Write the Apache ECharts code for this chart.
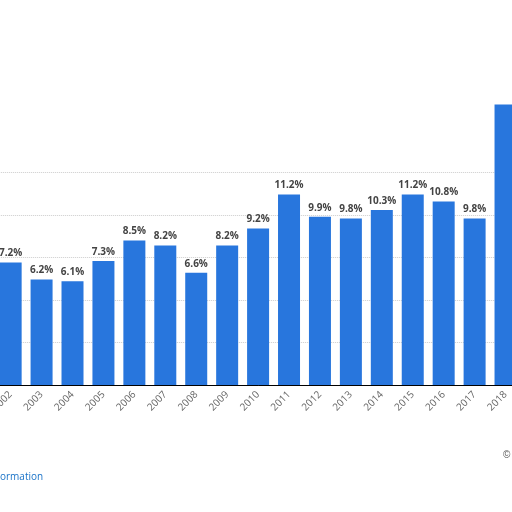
<!DOCTYPE html>
<html><head><meta charset="utf-8">
<script src="https://cdn.jsdelivr.net/npm/echarts@6/dist/echarts.min.js"></script>
<style>html,body{margin:0;background:#fff;overflow:hidden}#c{width:532px;height:512px;margin-left:-11px}</style>
</head><body><div id="c"></div>
<script>
const years = ['2002','2003','2004','2005','2006','2007','2008','2009','2010','2011','2012','2013','2014','2015','2016','2017','2018'];
const values = [7.2,6.2,6.1,7.3,8.5,8.2,6.6,8.2,9.2,11.2,9.9,9.8,10.3,11.2,10.8,9.8,16.5];
const labels = ['7.2%','6.2%','6.1%','7.3%','8.5%','8.2%','6.6%','8.2%','9.2%','11.2%','9.9%','9.8%','10.3%','11.2%','10.8%','9.8%',''];
const chart = echarts.init(document.getElementById('c'));
chart.setOption({
  animation:false,
  grid:{left:0,right:0,top:172.5,bottom:127},
  xAxis:{type:'category',data:years,
    axisLine:{lineStyle:{color:'#000',width:1}},axisTick:{show:false},
    axisLabel:{rotate:45,color:'#666',fontSize:10,fontFamily:'Open Sans',margin:8,interval:0}},
  yAxis:{type:'value',min:0,max:12.5,interval:2.5,axisLabel:{show:false},
    axisLine:{show:false},axisTick:{show:false},
    splitLine:{lineStyle:{color:'#ccc',type:'dotted'}}},
  series:[{type:'bar',data:values,barWidth:22,clip:false,itemStyle:{color:'#2876dd'},
    label:{show:true,position:'top',distance:4,color:'#444',fontSize:10,fontWeight:'bold',fontFamily:'Open Sans',
      formatter:p=>labels[p.dataIndex]}}],
  graphic:[
    {type:'text',left:11,top:472,style:{text:'ormation',fill:'#1a73c8',fontSize:10,fontFamily:'Open Sans'}},
    {type:'text',left:514,top:450,style:{text:'©',fill:'#555',fontSize:10}}
  ]
});
</script></body></html>
